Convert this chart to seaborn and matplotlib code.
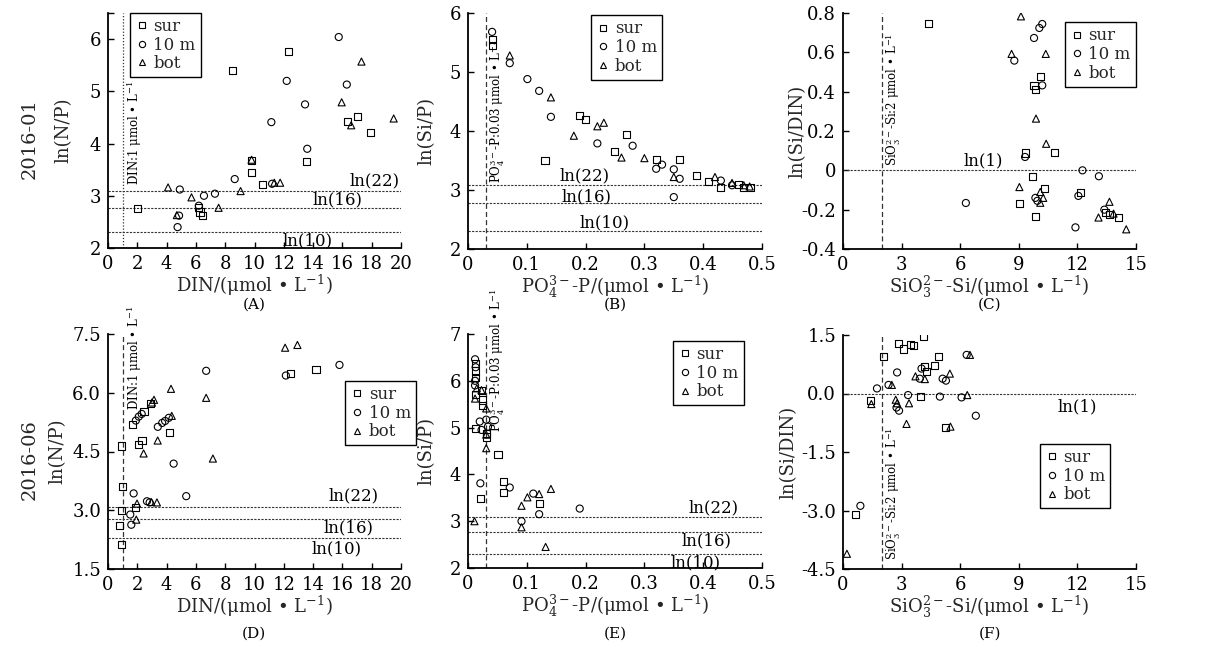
import numpy as np
import pandas as pd
import seaborn as sns
import matplotlib
matplotlib.use("Agg")
import matplotlib.pyplot as plt
from matplotlib.lines import Line2D

# ---------------- data ----------------
layers = ["sur", "10 m", "bot"]

# (A) 2016-01  DIN vs ln(N/P)
A_sur_x = [2.0, 8.5, 12.35, 6.2, 6.28, 6.48, 9.8, 9.8, 10.55, 13.55, 16.35, 17.05, 17.9]
A_sur_y = [2.76, 5.40, 5.77, 2.77, 2.69, 2.62, 3.44, 3.68, 3.22, 3.65, 4.43, 4.52, 4.22]
A_10m_x = [4.9, 4.85, 4.75, 6.2, 6.55, 7.3, 8.65, 11.15, 11.2, 12.2, 13.45, 13.6, 15.75, 16.3]
A_10m_y = [3.12, 2.62, 2.40, 2.81, 3.0, 3.04, 3.32, 4.41, 3.23, 5.2, 4.75, 3.9, 6.04, 5.13]
A_bot_x = [4.1, 5.7, 4.7, 7.55, 9.05, 9.8, 11.35, 11.75, 15.95, 17.3, 16.6, 19.5]
A_bot_y = [3.16, 2.97, 2.63, 2.77, 3.09, 3.69, 3.25, 3.25, 4.79, 5.57, 4.35, 4.48]

# (B) 2016-01  PO4-P vs ln(Si/P)
B_sur_x = [0.041, 0.041, 0.131, 0.19, 0.20, 0.249, 0.27, 0.32, 0.36, 0.389, 0.409, 0.429, 0.46, 0.469, 0.48]
B_sur_y = [5.55, 5.45, 3.50, 4.26, 4.20, 3.65, 3.94, 3.51, 3.51, 3.25, 3.14, 3.04, 3.10, 3.04, 3.04]
B_10m_x = [0.041, 0.071, 0.101, 0.121, 0.141, 0.22, 0.28, 0.32, 0.33, 0.35, 0.36, 0.35, 0.43, 0.449]
B_10m_y = [5.68, 5.15, 4.88, 4.68, 4.24, 3.79, 3.75, 3.36, 3.43, 3.35, 3.19, 2.88, 3.16, 3.08]
B_bot_x = [0.071, 0.141, 0.18, 0.22, 0.231, 0.261, 0.30, 0.35, 0.42, 0.449, 0.469, 0.479]
B_bot_y = [5.28, 4.57, 3.92, 4.08, 4.14, 3.55, 3.54, 3.22, 3.22, 3.12, 3.08, 3.06]

# (C) 2016-01  SiO3-Si vs ln(Si/DIN)
C_sur_x = [4.39, 9.78, 9.86, 10.12, 9.32, 10.82, 9.69, 9.03, 9.85, 10.3, 12.15, 13.45, 13.64, 14.1]
C_sur_y = [0.746, 0.432, 0.41, 0.478, 0.088, 0.09, -0.03, -0.17, -0.235, -0.093, -0.113, -0.215, -0.225, -0.242]
C_10m_x = [9.78, 10.05, 10.2, 8.77, 10.2, 9.32, 6.29, 12.26, 13.1, 9.85, 9.95, 12.05, 11.9, 13.38]
C_10m_y = [0.673, 0.724, 0.744, 0.558, 0.432, 0.068, -0.166, 0.0, -0.03, -0.14, -0.155, -0.13, -0.29, -0.2]
C_bot_x = [9.11, 8.63, 10.38, 9.88, 10.4, 9.03, 10.1, 10.25, 10.1, 13.64, 13.08, 13.85, 14.5]
C_bot_y = [0.783, 0.592, 0.592, 0.263, 0.135, -0.085, -0.11, -0.14, -0.165, -0.16, -0.24, -0.22, -0.3]

# (D) 2016-06  DIN vs ln(N/P)
D_sur_x = [0.95, 1.02, 0.95, 0.77, 0.95, 1.7, 2.46, 2.09, 2.32, 2.87, 4.2, 12.43, 14.2, 1.9]
D_sur_y = [4.64, 3.60, 2.99, 2.61, 2.12, 5.18, 5.52, 4.68, 4.78, 5.72, 4.98, 6.49, 6.60, 3.08]
D_10m_x = [1.75, 1.52, 1.59, 1.9, 2.1, 2.3, 2.66, 2.84, 3.4, 3.7, 3.9, 4.15, 4.48, 5.34, 6.7, 12.14, 15.8]
D_10m_y = [3.43, 2.89, 2.63, 5.29, 5.39, 5.46, 3.23, 3.20, 5.13, 5.23, 5.28, 5.36, 4.19, 3.36, 6.56, 6.44, 6.71]
D_bot_x = [1.98, 1.93, 2.43, 3.0, 3.14, 3.39, 3.34, 4.3, 4.35, 6.7, 7.16, 12.09, 12.93, 2.95]
D_bot_y = [3.17, 2.76, 4.45, 5.75, 5.82, 4.78, 3.2, 6.1, 5.41, 5.87, 4.32, 7.15, 7.22, 3.21]

# (E) 2016-06  PO4-P vs ln(Si/P)
E_sur_x = [0.012, 0.012, 0.013, 0.012, 0.023, 0.024, 0.024, 0.031, 0.031, 0.051, 0.061, 0.061, 0.022, 0.121, 0.012]
E_sur_y = [6.37, 6.21, 6.08, 5.70, 5.79, 5.59, 5.48, 4.88, 4.80, 4.42, 3.85, 3.61, 3.48, 3.37, 4.99]
E_10m_x = [0.012, 0.013, 0.012, 0.02, 0.023, 0.031, 0.034, 0.021, 0.071, 0.111, 0.121, 0.091, 0.19, 0.012]
E_10m_y = [6.46, 6.29, 6.0, 5.13, 4.95, 5.17, 5.02, 3.81, 3.72, 3.59, 3.15, 3.0, 3.27, 5.9]
E_bot_x = [0.015, 0.012, 0.023, 0.031, 0.031, 0.011, 0.091, 0.101, 0.121, 0.141, 0.091, 0.132, 0.031]
E_bot_y = [5.84, 5.62, 5.80, 5.41, 4.56, 3.0, 3.33, 3.51, 3.58, 3.69, 2.87, 2.45, 4.85]

# (F) 2016-06  SiO3-Si vs ln(Si/DIN)
F_sur_x = [2.09, 2.82, 3.11, 3.45, 3.62, 4.1, 4.9, 4.7, 4.19, 4.27, 3.97, 1.4, 5.27, 0.63]
F_sur_y = [0.95, 1.28, 1.14, 1.26, 1.22, 1.46, 0.95, 0.71, 0.69, 0.56, -0.08, -0.19, -0.87, -3.11]
F_10m_x = [1.74, 2.33, 2.77, 4.02, 3.93, 3.33, 2.74, 2.87, 4.96, 5.1, 5.27, 6.07, 6.8, 0.89, 6.33]
F_10m_y = [0.13, 0.22, 0.54, 0.64, 0.38, -0.04, -0.36, -0.44, -0.08, 0.38, 0.33, -0.10, -0.57, -2.88, 0.99]
F_bot_x = [2.5, 1.45, 2.7, 2.77, 3.38, 3.25, 3.71, 4.19, 5.47, 6.5, 6.36, 5.5, 0.2]
F_bot_y = [0.22, -0.27, -0.16, -0.25, -0.25, -0.78, 0.44, 0.37, 0.51, 0.99, -0.04, -0.85, -4.11]

# tick values / labels
A_xticks = [0, 2, 4, 6, 8, 10, 12, 14, 16, 18, 20]
A_yticks = [2, 3, 4, 5, 6, 6.5]
A_yticklabels = ["2", "3", "4", "5", "6", ""]
B_xticks = [0, 0.1, 0.2, 0.3, 0.4, 0.5]
B_xticklabels = ["0", "0.1", "0.2", "0.3", "0.4", "0.5"]
B_yticks = [2, 3, 4, 5, 6]
C_xticks = [0, 3, 6, 9, 12, 15]
C_yticks = [-0.4, -0.2, 0, 0.2, 0.4, 0.6, 0.8]
C_yticklabels = ["-0.4", "-0.2", "0", "0.2", "0.4", "0.6", "0.8"]
D_yticks = [1.5, 3.0, 4.5, 6.0, 7.5]
D_yticklabels = ["1.5", "3.0", "4.5", "6.0", "7.5"]
E_yticks = [2, 3, 4, 5, 6, 7]
F_yticks = [-4.5, -3.0, -1.5, 0.0, 1.5]
F_yticklabels = ["-4.5", "-3.0", "-1.5", "0.0", "1.5"]

ratio_levels = [np.log(22), np.log(16), np.log(10)]
ratio_labels = ["ln(22)", "ln(16)", "ln(10)"]

# ---------------- style ----------------
sns.set_theme(style="white")
plt.rcParams['font.family'] = ['DejaVu Serif']
plt.rcParams['mathtext.fontset'] = 'dejavuserif'
plt.rcParams['axes.unicode_minus'] = False

W, H = 1219, 647
fig = plt.figure(figsize=(W / 100, H / 100), dpi=100)


def px_axes(l, t, r, b):
    return fig.add_axes([l / W, 1 - b / H, (r - l) / W, (b - t) / H])


markers = {"sur": "s", "10 m": "o", "bot": "^"}


def scatter(ax, xs, ys):
    frames = []
    for lay, x, y in zip(layers, xs, ys):
        frames.append(pd.DataFrame({"x": x, "y": y, "layer": lay}))
    df = pd.concat(frames, ignore_index=True)
    sns.scatterplot(data=df, x="x", y="y", style="layer", style_order=layers,
                    markers=markers, color="black", facecolor="none",
                    edgecolor="black", linewidth=0.8, s=26, legend=False,
                    ax=ax, zorder=3)


def style_axes(ax, xlim, ylim, xticks, xtl, yticks, ytl, xlabel, ylabel):
    ax.set_xlim(*xlim)
    ax.set_ylim(*ylim)
    ax.set_xticks(xticks)
    ax.set_xticklabels(xtl)
    ax.set_yticks(yticks)
    ax.set_yticklabels(ytl)
    for s in ["top", "right"]:
        ax.spines[s].set_visible(False)
    for s in ["left", "bottom"]:
        ax.spines[s].set_color("black")
        ax.spines[s].set_linewidth(1.3)
    ax.tick_params(direction="in", length=4, width=1, labelsize=13,
                   colors="black", left=True, bottom=True, pad=5)
    ax.set_xlabel(xlabel, fontsize=13)
    ax.set_ylabel(ylabel, fontsize=13)
    ax.xaxis.set_label_coords(0.5, -0.105)


def legend(ax, anchor):
    handles = [Line2D([], [], marker=markers[l], ls="none", mfc="none", mec="black",
                      ms=4.5, mew=0.8, label=l) for l in layers]
    lg = ax.legend(handles=handles, loc="upper left", bbox_to_anchor=anchor,
                   borderaxespad=0, fancybox=False, edgecolor="black", framealpha=1,
                   fontsize=12, handlelength=0.8, handletextpad=0.3,
                   borderpad=0.3, labelspacing=0.1)
    lg.get_frame().set_linewidth(1.0)


def hlines(ax, levels):
    for lv in levels:
        ax.axhline(lv, color="#333333", lw=0.8, ls=(0, (2, 1.2)), zorder=1)


def vline(ax, x, dotted=False):
    ax.axvline(x, color="#333333", lw=0.9, ls=(0, (1, 1.5)) if dotted else (0, (4, 2.5)), zorder=1)


lab_kw = dict(fontsize=12, color="black", ha="center", va="center")
ann_kw = dict(fontsize=8.5, color="black", rotation=90, ha="left", va="bottom")

xl_din = "DIN/(μmol • L$^{-1}$)"
xl_p = "PO$_4^{3-}$-P/(μmol • L$^{-1}$)"
xl_si = "SiO$_3^{2-}$-Si/(μmol • L$^{-1}$)"

# ---------- (A) ----------
ax = px_axes(108, 13, 401, 248)
scatter(ax, [A_sur_x, A_10m_x, A_bot_x], [A_sur_y, A_10m_y, A_bot_y])
hlines(ax, ratio_levels)
vline(ax, 1, dotted=True)
style_axes(ax, (0, 20), (2, 6.5), A_xticks, [str(v) for v in A_xticks], A_yticks, A_yticklabels, xl_din, "ln(N/P)")
legend(ax, (0.075, 1.0))
for lv, t, (tx, ty) in zip(ratio_levels, ratio_labels, [(18.2, 3.29), (15.7, 2.92), (13.6, 2.13)]):
    ax.text(tx, ty, t, **lab_kw)
ax.text(1.2, 3.2, "DIN:1 μmol • L$^{-1}$", **ann_kw)
ax.yaxis.set_label_coords(-0.12, 0.5)

# ---------- (B) ----------
ax = px_axes(468, 13, 762, 249)
scatter(ax, [B_sur_x, B_10m_x, B_bot_x], [B_sur_y, B_10m_y, B_bot_y])
hlines(ax, ratio_levels)
vline(ax, 0.03)
style_axes(ax, (0, 0.5), (2, 6), B_xticks, B_xticklabels, B_yticks, [str(v) for v in B_yticks], xl_p, "ln(Si/P)")
legend(ax, (0.42, 0.99))
for lv, t, (tx, ty) in zip(ratio_levels, ratio_labels, [(0.198, 3.24), (0.202, 2.88), (0.232, 2.44)]):
    ax.text(tx, ty, t, **lab_kw)
ax.text(0.033, 3.12, "PO$_4^{3-}$-P:0.03 μmol • L$^{-1}$", **ann_kw)
ax.yaxis.set_label_coords(-0.11, 0.5)

# ---------- (C) ----------
ax = px_axes(843, 13, 1136, 249)
scatter(ax, [C_sur_x, C_10m_x, C_bot_x], [C_sur_y, C_10m_y, C_bot_y])
hlines(ax, [0])
vline(ax, 2)
style_axes(ax, (0, 15), (-0.4, 0.8), C_xticks, [str(v) for v in C_xticks], C_yticks, C_yticklabels, xl_si, "ln(Si/DIN)")
legend(ax, (0.758, 0.96))
ax.text(7.2, 0.046, "ln(1)", **lab_kw)
ax.text(2.1, 0.02, "SiO$_3^{2-}$-Si:2 μmol • L$^{-1}$", **ann_kw)
ax.yaxis.set_label_coords(-0.125, 0.5)

# ---------- (D) ----------
ax = px_axes(108, 334, 401, 569)
scatter(ax, [D_sur_x, D_10m_x, D_bot_x], [D_sur_y, D_10m_y, D_bot_y])
hlines(ax, ratio_levels)
vline(ax, 1)
style_axes(ax, (0, 20), (1.5, 7.5), A_xticks, [str(v) for v in A_xticks], D_yticks, D_yticklabels, xl_din, "ln(N/P)")
legend(ax, (0.81, 0.80))
for lv, t, (tx, ty) in zip(ratio_levels, ratio_labels, [(16.8, 3.36), (16.4, 2.55), (15.6, 2.01)]):
    ax.text(tx, ty, t, **lab_kw)
ax.text(1.15, 5.55, "DIN:1 μmol • L$^{-1}$", **ann_kw)
ax.yaxis.set_label_coords(-0.14, 0.5)

# ---------- (E) ----------
ax = px_axes(468, 334, 762, 568)
scatter(ax, [E_sur_x, E_10m_x, E_bot_x], [E_sur_y, E_10m_y, E_bot_y])
hlines(ax, ratio_levels)
vline(ax, 0.03)
style_axes(ax, (0, 0.5), (2, 7), B_xticks, B_xticklabels, E_yticks, [str(v) for v in E_yticks], xl_p, "ln(Si/P)")
legend(ax, (0.697, 0.97))
for lv, t, (tx, ty) in zip(ratio_levels, ratio_labels, [(0.417, 3.29), (0.405, 2.57), (0.387, 2.1)]):
    ax.text(tx, ty, t, **lab_kw)
ax.text(0.033, 4.9, "PO$_4^{3-}$-P:0.03 μmol • L$^{-1}$", **ann_kw)
ax.yaxis.set_label_coords(-0.11, 0.5)

# ---------- (F) ----------
ax = px_axes(843, 335, 1136, 569)
scatter(ax, [F_sur_x, F_10m_x, F_bot_x], [F_sur_y, F_10m_y, F_bot_y])
hlines(ax, [0])
vline(ax, 2)
style_axes(ax, (0, 15), (-4.5, 1.5), C_xticks, [str(v) for v in C_xticks], F_yticks, F_yticklabels, xl_si, "ln(Si/DIN)")
legend(ax, (0.672, 0.534))
ax.text(12.0, -0.34, "ln(1)", **lab_kw)
ax.text(2.1, -4.28, "SiO$_3^{2-}$-Si:2 μmol • L$^{-1}$", **ann_kw)
ax.yaxis.set_label_coords(-0.155, 0.5)

# panel letters and row labels
for lbl, cx, cy in [("(A)", 254, 305), ("(B)", 615, 305), ("(C)", 990, 305),
                    ("(D)", 254, 634), ("(E)", 615, 634), ("(F)", 990, 634)]:
    fig.text(cx / W, 1 - cy / H, lbl, fontsize=11, ha="center", va="center", color="black")
fig.text(30 / W, 1 - 139 / H, "2016-01", fontsize=14, rotation=90, ha="center", va="center")
fig.text(30 / W, 1 - 460 / H, "2016-06", fontsize=14, rotation=90, ha="center", va="center")

fig.savefig("out.png", dpi=100)
